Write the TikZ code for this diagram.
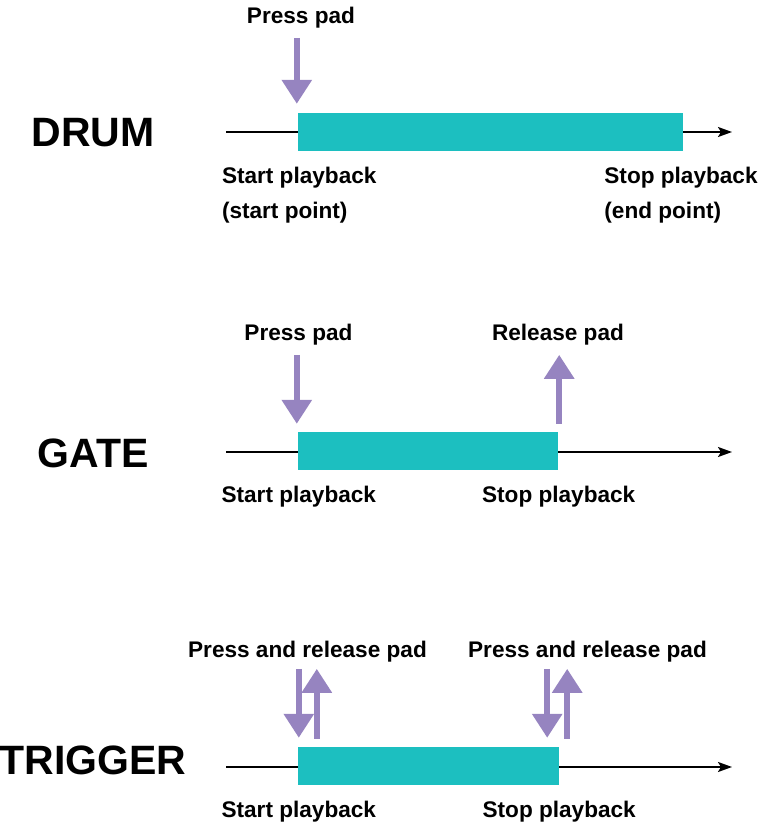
\documentclass[tikz,border=0pt]{standalone}
\usepackage{fontspec}
\setmainfont{Liberation Sans}
\usetikzlibrary{calc,arrows.meta}

\definecolor{barteal}{RGB}{28,191,192}
\definecolor{padpurple}{RGB}{150,132,192}

\begin{document}
\begin{tikzpicture}[x=1pt,y=-1pt,
    bar/.style={rectangle,fill=barteal,inner sep=0pt,minimum height=38pt},
    pad/.style={padpurple,line width=6pt,-{Triangle[width=29pt,length=24pt]}},
    timeline/.style={line width=1.9pt,-{Stealth[length=14pt,width=10pt,inset=3pt]}},
    mode/.style={font=\fontsize{41}{41}\selectfont\bfseries,inner sep=0pt},
    lbl/.style={font=\fontsize{22.6}{35}\selectfont\bfseries,inner sep=0pt,anchor=base}]
    \useasboundingbox (0,0) rectangle (759,824);

    % DRUM
    \node (drum) at (93,133) [mode]{DRUM};
    \coordinate (drumtail) at (226,132);
    \coordinate (drumhead) at (732,132);
    \draw [timeline] (drumtail) -- (drumhead);
    \node (drumbar) at (490.5,132) [bar,minimum width=385pt]{};
    \node (drumpress) at (301,24) [lbl]{Press pad};
    \draw [pad] ($(drumbar.north west)+(-1,-75)$) -- ($(drumbar.north west)+(-1,-9)$);
    \node (drumstart) at ($(drumbar.south west)+(-76,15.5)$) [lbl,anchor=north west,align=left]{Start playback\\(start point)};
    \node (drumstop) at ($(drumbar.south east)+(-79,15.5)$) [lbl,anchor=north west,align=left]{Stop playback\\(end point)};

    % GATE
    \node (gate) at (93,453) [mode]{GATE};
    \coordinate (gatetail) at (226,452);
    \coordinate (gatehead) at (732,452);
    \draw [timeline] (gatetail) -- (gatehead);
    \node (gatebar) at (428,451) [bar,minimum width=260pt]{};
    \node (gatepress) at (298.5,340) [lbl]{Press pad};
    \node (gaterelease) at (558,340) [lbl]{Release pad};
    \draw [pad] ($(gatebar.north west)+(-1,-77)$) -- ($(gatebar.north west)+(-1,-8)$);
    \draw [pad] ($(gatebar.north east)+(1,-8)$) -- ($(gatebar.north east)+(1,-77)$);
    \node (gatestart) at ($(gatebar.south west)+(1,32)$) [lbl]{Start playback};
    \node (gatestop) at ($(gatebar.south east)+(0.5,32)$) [lbl]{Stop playback};

    % TRIGGER
    \node (trigger) at (93,760) [mode]{TRIGGER};
    \coordinate (triggertail) at (226,767);
    \coordinate (triggerhead) at (732,767);
    \draw [timeline] (triggertail) -- (triggerhead);
    \node (triggerbar) at (428.5,766) [bar,minimum width=261pt]{};
    \node (triggerfirst) at (307.5,657) [lbl]{Press and release pad};
    \node (triggersecond) at (587.5,657) [lbl]{Press and release pad};
    \draw [pad] ($(triggerbar.north west)+(1,-78)$) -- ($(triggerbar.north west)+(1,-9)$);
    \draw [pad] ($(triggerbar.north west)+(19,-8)$) -- ($(triggerbar.north west)+(19,-78)$);
    \draw [pad] ($(triggerbar.north east)+(-12,-78)$) -- ($(triggerbar.north east)+(-12,-9)$);
    \draw [pad] ($(triggerbar.north east)+(8,-8)$) -- ($(triggerbar.north east)+(8,-78)$);
    \node (triggerstart) at ($(triggerbar.south west)+(1,32)$) [lbl]{Start playback};
    \node (triggerstop) at ($(triggerbar.south east)+(0,32)$) [lbl]{Stop playback};
\end{tikzpicture}
\end{document}
